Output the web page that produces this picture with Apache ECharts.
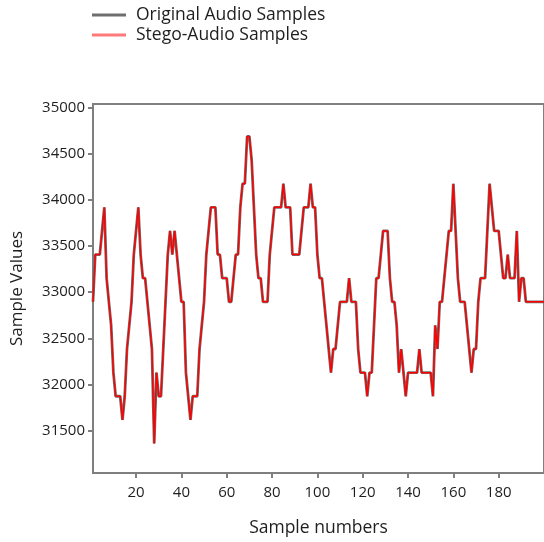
<!DOCTYPE html>
<html>
<head>
<meta charset="utf-8">
<script src="https://cdn.jsdelivr.net/npm/echarts@6/dist/echarts.min.js"></script>
<style>
html,body{margin:0;padding:0;background:#fff;}
#chart{width:544px;height:542px;}
</style>
</head>
<body>
<div id="chart"></div>
<script>
const seriesNames = ['Original Audio Samples', 'Stego-Audio Samples'];
const xTicks = [20, 40, 60, 80, 100, 120, 140, 160, 180];
const yTicks = [31500, 32000, 32500, 33000, 33500, 34000, 34500, 35000];

const originalSamples = [
32896,33408,33408,33408,33664,33920,33152,32896,32640,32128,
31872,31872,31872,31616,31872,32384,32640,32896,33408,33664,
33920,33408,33152,33152,32896,32640,32384,31360,32128,31872,
31872,32384,32896,33408,33664,33408,33664,33408,33152,32896,
32896,32128,31872,31616,31872,31872,31872,32384,32640,32896,
33408,33664,33920,33920,33920,33408,33408,33152,33152,33152,
32896,32896,33152,33408,33408,33920,34176,34176,34688,34688,
34432,33920,33408,33152,33152,32896,32896,32896,33408,33664,
33920,33920,33920,33920,34176,33920,33920,33920,33408,33408,
33408,33408,33664,33920,33920,33920,34176,33920,33920,33408,
33152,33152,32896,32640,32384,32128,32384,32384,32640,32896,
32896,32896,32896,33152,32896,32896,32896,32384,32128,32128,
32128,31872,32128,32128,32640,33152,33152,33408,33664,33664,
33664,33152,32896,32896,32640,32128,32384,32128,31872,32128,
32128,32128,32128,32128,32384,32128,32128,32128,32128,32128,
31872,32640,32384,32896,32896,33152,33408,33664,33664,34176,
33664,33152,32896,32896,32896,32640,32384,32128,32384,32384,
32896,33152,33152,33152,33664,34176,33920,33664,33664,33664,
33408,33152,33152,33408,33152,33152,33152,33664,32896,33152,
33152,32896,32896,32896,32896,32896,32896,32896,32896,32896
];
const stegoSamples = [
32896,33408,33408,33408,33664,33920,33152,32896,32640,32128,
31872,31872,31872,31616,31872,32384,32640,32896,33408,33664,
33920,33408,33152,33152,32896,32640,32384,31360,32128,31872,
31872,32384,32896,33408,33664,33408,33664,33408,33152,32896,
32896,32128,31872,31616,31872,31872,31872,32384,32640,32896,
33408,33664,33920,33920,33920,33408,33408,33152,33152,33152,
32896,32896,33152,33408,33408,33920,34176,34176,34688,34688,
34432,33920,33408,33152,33152,32896,32896,32896,33408,33664,
33920,33920,33920,33920,34176,33920,33920,33920,33408,33408,
33408,33408,33664,33920,33920,33920,34176,33920,33920,33408,
33152,33152,32896,32640,32384,32128,32384,32384,32640,32896,
32896,32896,32896,33152,32896,32896,32896,32384,32128,32128,
32128,31872,32128,32128,32640,33152,33152,33408,33664,33664,
33664,33152,32896,32896,32640,32128,32384,32128,31872,32128,
32128,32128,32128,32128,32384,32128,32128,32128,32128,32128,
31872,32640,32384,32896,32896,33152,33408,33664,33664,34176,
33664,33152,32896,32896,32896,32640,32384,32128,32384,32384,
32896,33152,33152,33152,33664,34176,33920,33664,33664,33664,
33408,33152,33152,33408,33152,33152,33152,33664,32896,33152,
33152,32896,32896,32896,32896,32896,32896,32896,32896,32896
];

const toPairs = arr => arr.map((v, i) => [i + 1, v]);
const font = '"Open Sans", "Noto Sans", sans-serif';
const axisColor = '#7f7f7f';
const textColor = '#1e1e1e';

const chart = echarts.init(document.getElementById('chart'), null, {renderer: 'canvas'});
chart.setOption({
  animation: false,
  backgroundColor: '#ffffff',
  legend: {
    orient: 'vertical',
    left: 92,
    top: 5,
    padding: [0, 5, 5, 0],
    itemWidth: 34,
    itemHeight: 3,
    itemGap: 0,
    textStyle: {fontFamily: font, fontSize: 17.5, lineHeight: 20, color: textColor, padding: [0, 0, 0, 5]},
    data: [
      {name: seriesNames[0], icon: 'rect', itemStyle: {color: '#6e6e6e'}},
      {name: seriesNames[1], icon: 'rect', itemStyle: {color: '#ff7b7b'}}
    ]
  },
  grid: {
    left: 93, top: 104, width: 458, height: 369,
    show: true, borderColor: axisColor, borderWidth: 2, backgroundColor: '#fff'
  },
  xAxis: {
    type: 'value', min: 1, max: 200,
    name: 'Sample numbers', nameLocation: 'middle', nameGap: 46,
    nameTextStyle: {fontFamily: font, fontSize: 17.5, color: textColor},
    axisLine: {show: true, lineStyle: {color: axisColor, width: 2}},
    axisTick: {show: true, length: 5, lineStyle: {color: axisColor, width: 2}, customValues: xTicks},
    axisLabel: {fontFamily: font, fontSize: 15, color: textColor, margin: 12, customValues: xTicks,
      formatter: v => String(v)},
    splitLine: {show: false}
  },
  yAxis: {
    type: 'value', min: 31040, max: 35040,
    name: 'Sample Values', nameLocation: 'middle', nameGap: 67, nameRotate: 90,
    nameTextStyle: {fontFamily: font, fontSize: 17, color: textColor},
    axisLine: {show: true, lineStyle: {color: axisColor, width: 2}},
    axisTick: {show: true, length: 5, lineStyle: {color: axisColor, width: 2}, customValues: yTicks},
    axisLabel: {fontFamily: font, fontSize: 15, color: textColor, margin: 8, customValues: yTicks,
      formatter: v => String(v)},
    splitLine: {show: false}
  },
  series: [
    {
      name: seriesNames[0], type: 'line', data: toPairs(originalSamples),
      symbol: 'none', lineStyle: {color: '#6e6e6e', width: 2.8}, itemStyle: {color: '#6e6e6e'},
      z: 2
    },
    {
      name: seriesNames[1], type: 'line', data: toPairs(stegoSamples),
      symbol: 'none', lineStyle: {color: '#ff0000', width: 1.5}, itemStyle: {color: '#ff7b7b'},
      z: 3
    }
  ]
});
</script>
</body>
</html>
